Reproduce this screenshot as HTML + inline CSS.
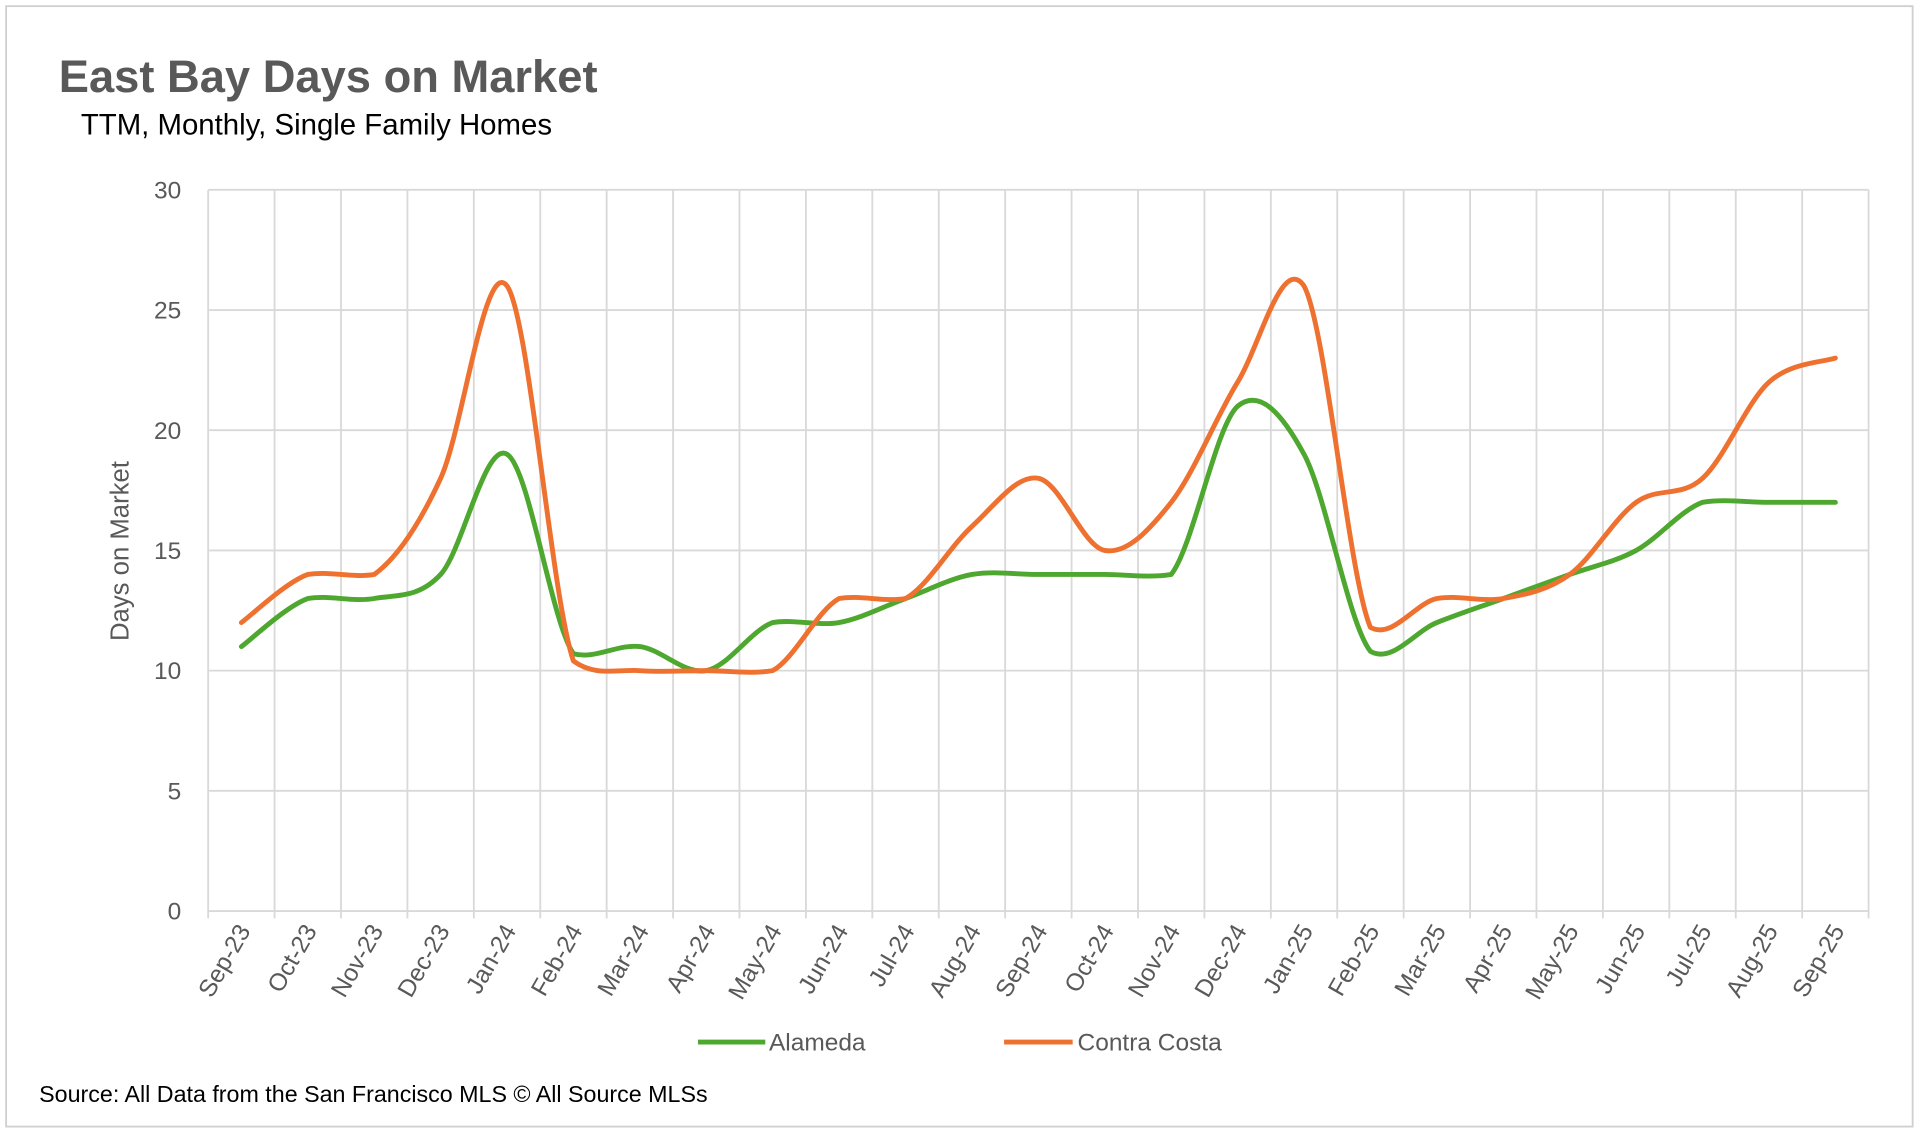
<!DOCTYPE html>
<html><head><meta charset="utf-8"><style>
html,body{margin:0;padding:0;background:#fff;}
svg{display:block;font-family:"Liberation Sans",sans-serif;}
</style></head><body>
<svg id="chart" width="1920" height="1136" viewBox="0 0 1568 927.7" xmlns="http://www.w3.org/2000/svg">
<rect x="5" y="5" width="1557" height="915" fill="#fff" stroke="#d0d0d0" stroke-width="1.5"/>
<text x="48" y="75" font-size="37" font-weight="bold" fill="#595959">East Bay Days on Market</text>
<text x="66" y="110" font-size="24" fill="#000">TTM, Monthly, Single Family Homes</text>
<g id="grid"></g>
<g id="axes"></g>
<g id="series"></g>
<text transform="translate(105,450) rotate(-90)" text-anchor="middle" font-size="21" fill="#595959">Days on Market</text>
<g>
<line x1="570" y1="851" x2="625" y2="851" stroke="#4ea72e" stroke-width="4"/>
<text x="628" y="858" font-size="20" fill="#595959">Alameda</text>
<line x1="820" y1="851" x2="876" y2="851" stroke="#ee7130" stroke-width="4"/>
<text x="880" y="858" font-size="20" fill="#595959">Contra Costa</text>
</g>
<text x="32" y="900" font-size="19" fill="#000">Source: All Data from the San Francisco MLS © All Source MLSs</text>
</svg>
<script>
const categories=["Sep-23","Oct-23","Nov-23","Dec-23","Jan-24","Feb-24","Mar-24","Apr-24","May-24","Jun-24","Jul-24","Aug-24","Sep-24","Oct-24","Nov-24","Dec-24","Jan-25","Feb-25","Mar-25","Apr-25","May-25","Jun-25","Jul-25","Aug-25","Sep-25"];
const alameda=[11,13,13,14,19,10.7,11,10,12,12,13,14,14,14,14,21,19,10.8,12,13,14,15,17,17,17];
const contraCosta=[12,14,14,18,26,10.4,10,10,10,13,13,16,18,15,17,22,26,11.8,13,13,14,17,18,22,23];
const yTicks=[0,5,10,15,20,25,30];
const NS="http://www.w3.org/2000/svg";
const X0=170,X1=1526,Y0=744,Y1=155,YMAX=30;
const bw=(X1-X0)/categories.length;
function xPos(i){return X0+bw*(i+0.5);}
function yPos(v){return Y0-(v/YMAX)*(Y0-Y1);}
function mk(tag,attrs,parent){const e=document.createElementNS(NS,tag);for(const k in attrs)e.setAttribute(k,attrs[k]);parent.appendChild(e);return e;}
const grid=document.getElementById('grid'),axes=document.getElementById('axes'),series=document.getElementById('series');
yTicks.forEach(t=>{
  const l=mk('line',{x1:X0,x2:X1,y1:yPos(t),y2:yPos(t),stroke:'#d9d9d9','stroke-width':1.5},grid);
  
  
  const tx=mk('text',{x:148,y:yPos(t)+7,'text-anchor':'end','font-size':20,fill:'#595959'},axes);
  tx.textContent=t;
  
  
});
for(let i=0;i<=categories.length;i++){
  const x=X0+bw*i;
  const l=mk('line',{x1:x,x2:x,y1:Y1,y2:Y0+6,stroke:'#d9d9d9','stroke-width':1.5},grid);
  
  
}
categories.forEach((c,i)=>{
  const x=xPos(i)+8,y=760;
  const tx=mk('text',{x:x,y:y,'text-anchor':'end','font-size':20,fill:'#595959',transform:`rotate(-60 ${x} ${y})`},axes);
  tx.textContent=c;
  
  
});
function clamp(v,a,b){const m=Math.abs(b-a)*0.3+3;const lo=Math.min(a,b)-m,hi=Math.max(a,b)+m;return Math.max(lo,Math.min(hi,v));}
function smooth(vals){
  const p=vals.map((v,i)=>[xPos(i),yPos(v)]);
  let d=`M${p[0][0]},${p[0][1]}`;
  for(let i=0;i<p.length-1;i++){
    const a=p[i-1]||p[i],b=p[i],c=p[i+1],e=p[i+2]||c;
    const c1=[b[0]+(c[0]-a[0])/6,clamp(b[1]+(c[1]-a[1])/6,b[1],c[1])];
    const c2=[c[0]-(e[0]-b[0])/6,clamp(c[1]-(e[1]-b[1])/6,b[1],c[1])];
    d+=` C${c1[0]},${c1[1]} ${c2[0]},${c2[1]} ${c[0]},${c[1]}`;
  }
  return d;
}
const la=mk('path',{d:smooth(alameda),fill:'none',stroke:'#4ea72e','stroke-width':4,'stroke-linejoin':'round','stroke-linecap':'round'},series);


const lc=mk('path',{d:smooth(contraCosta),fill:'none',stroke:'#ee7130','stroke-width':4,'stroke-linejoin':'round','stroke-linecap':'round'},series);


</script>
</body></html>
